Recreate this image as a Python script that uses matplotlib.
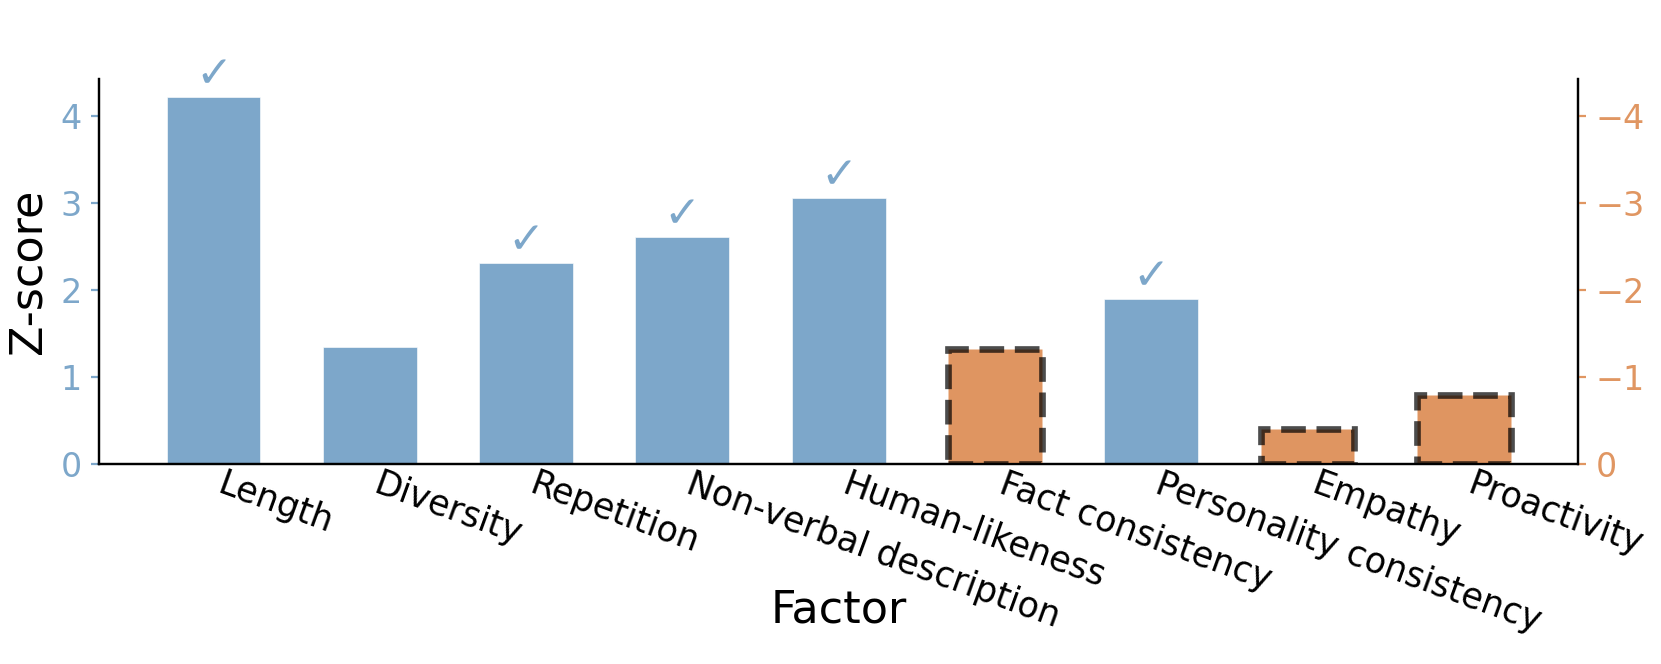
import matplotlib
matplotlib.use("Agg")
import matplotlib.pyplot as plt

# Datos
factores = ["Length", "Diversity", "Repetition", "Non-verbal description",
            "Human-likeness", "Fact consistency", "Personality consistency",
            "Empathy", "Proactivity"]
z_scores = [4.22, 1.35, 2.32, 2.61, 3.06, 1.33, 1.90, 0.41, 0.80]
negativo = [False, False, False, False, False, True, False, True, True]
significativo = [True, False, True, True, True, False, True, False, False]

AZUL = "steelblue"
NARANJA = "chocolate"
AZUL_TXT = "#7da7ca"
NARANJA_TXT = "#e09662"

fig, ax = plt.subplots(figsize=(8.305, 3.32), dpi=200)
fig.subplots_adjust(left=0.0599, right=0.9499, bottom=0.3007, top=0.881)
ax2 = ax.twinx()

x_pos = list(range(len(factores)))
x_az = [x for x, n in zip(x_pos, negativo) if not n]
v_az = [v for v, n in zip(z_scores, negativo) if not n]
x_na = [x for x, n in zip(x_pos, negativo) if n]
v_na = [-v for v, n in zip(z_scores, negativo) if n]

ax.bar(x_az, v_az, width=0.6, color=AZUL, alpha=0.7, edgecolor="white", linewidth=0.3)
ax2.bar(x_na, v_na, width=0.6, color=NARANJA, alpha=0.7, edgecolor="black",
        linestyle="--", linewidth=2.4)

# Marcas de significancia
for x, v, sig in zip(x_pos, z_scores, significativo):
    if sig:
        ax.annotate("\u2713", (x, v), xytext=(0, 3.5), textcoords="offset points",
                    ha="center", va="baseline", fontsize=16, fontweight="bold",
                    color=AZUL_TXT, annotation_clip=False)

tope = ax.get_ylim()[1]
ax.set_ylim(0, tope)
ax2.set_ylim(0, -tope)

ax.set_xticks(x_pos)
ax.set_xticklabels(factores, rotation=-20, ha="left", fontsize=12.5)
ax.tick_params(axis="x", length=0, pad=1)
ax.tick_params(axis="y", colors=AZUL_TXT, labelsize=12, length=2.8)
ax2.tick_params(axis="y", colors=NARANJA_TXT, labelsize=12, length=2.8)

ax.set_xlabel("Factor", fontsize=16, va="baseline")
ax.xaxis.set_label_coords(0.5, -0.411)
ax.set_ylabel("Z-score", fontsize=16)

for a in (ax, ax2):
    a.spines["top"].set_visible(False)
    for s in ("left", "right", "bottom"):
        a.spines[s].set_color("black")

fig.savefig("out.png", dpi=200)
